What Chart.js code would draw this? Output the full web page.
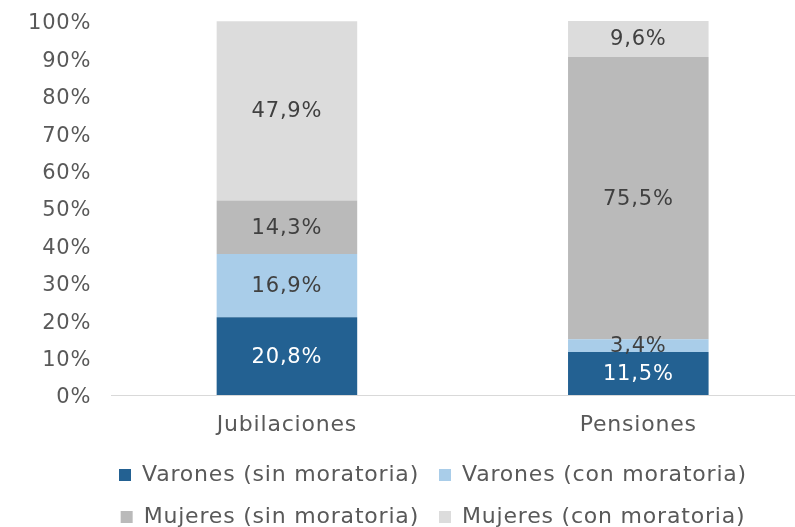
<!DOCTYPE html>
<html>
<head>
<meta charset="utf-8">
<script src="https://cdn.jsdelivr.net/npm/chart.js@4.4.1/dist/chart.umd.min.js"></script>
<style>
  html, body { margin: 0; padding: 0; background: #fff; overflow: hidden; }
  #wrap { width: 795px; height: 527px; overflow: hidden; }
</style>
</head>
<body>
<div id="wrap"><canvas id="myChart" width="814" height="527"></canvas></div>
<script>
// categories and series (percent)
let categories = ['Jubilaciones', 'Pensiones'];
let varonesSin = [20.8, 11.5];
let varonesCon = [16.9, 3.4];
let mujeresSin = [14.3, 75.5];
let mujeresCon = [47.9, 9.6];
let yTicks = [0, 10, 20, 30, 40, 50, 60, 70, 80, 90, 100];

const FONT = '"DejaVu Sans", sans-serif';
const TEXT = '#595959';
const SPACING = '0.8px';

// a little letter spacing so the text is as wide as in the original
const wideText = {
  id: 'wideText',
  beforeUpdate(chart) { chart.ctx.letterSpacing = SPACING; },
  beforeDraw(chart) { chart.ctx.letterSpacing = SPACING; },
  afterLayout(chart) {
    // legend sits a bit lower and right of centre in the original
    chart.legend.left += 22;
    chart.legend.right += 22;
    chart.legend.top += 11;
    chart.legend.bottom += 11;
    // x labels get clipped to the axis box, give them room
    chart.scales.x.bottom += 30;
  }
};

// draws the value inside each bar segment
const segmentLabels = {
  id: 'segmentLabels',
  afterDatasetsDraw(chart) {
    const ctx = chart.ctx;
    ctx.save();
    ctx.font = '21px ' + FONT;
    ctx.textAlign = 'center';
    ctx.textBaseline = 'middle';
    chart.data.datasets.forEach(function (ds, i) {
      let meta = chart.getDatasetMeta(i);
      meta.data.forEach(function (bar, j) {
        let y = (bar.y + bar.base) / 2;
        ctx.fillStyle = ds.labelColor;
        ctx.fillText(ds.data[j].toFixed(1).replace('.', ',') + '%', bar.x, y + 1);
      });
    });
    ctx.restore();
  }
};

let chart = document.getElementById('myChart');

const config = {
  type: 'bar',
  data: {
    labels: categories,
    datasets: [
      { label: 'Varones (sin moratoria)', data: varonesSin, backgroundColor: '#236192', labelColor: '#ffffff' },
      { label: 'Varones (con moratoria)', data: varonesCon, backgroundColor: '#a9cde9', labelColor: '#404040' },
      { label: 'Mujeres (sin moratoria)', data: mujeresSin, backgroundColor: '#bababa', labelColor: '#404040' },
      { label: 'Mujeres (con moratoria)', data: mujeresCon, backgroundColor: '#dcdcdc', labelColor: '#404040' }
    ]
  },
  options: {
    responsive: false,
    animation: false,
    layout: { padding: { top: 21, right: 0, left: 8, bottom: 0 } },
    datasets: {
      bar: { categoryPercentage: 1, barPercentage: 0.4 }
    },
    plugins: {
      tooltip: { enabled: false },
      legend: {
        position: 'bottom',
        labels: {
          color: TEXT,
          font: { family: FONT, size: 22 },
          boxWidth: 12,
          boxHeight: 12,
          padding: 20
        }
      }
    },
    scales: {
      x: {
        stacked: true,
        grid: { display: false },
        border: { display: true, color: '#d9d9d9', width: 1 },
        ticks: { color: TEXT, font: { family: FONT, size: 22 }, padding: 9 },
        afterFit: function (axis) { axis.height = 38; }
      },
      y: {
        stacked: true,
        min: 0,
        max: 100,
        afterBuildTicks: function (axis) {
          axis.ticks = yTicks.map(function (v) { return { value: v }; });
        },
        afterFit: function (axis) {
          axis.paddingTop = 0;
          axis.paddingBottom = 0;
        },
        grid: { display: false, drawTicks: false },
        border: { display: false },
        ticks: {
          color: TEXT,
          font: { family: FONT, size: 21 },
          padding: 20,
          labelOffset: 3,
          callback: function (v) { return v + '%'; }
        }
      }
    }
  },
  plugins: [wideText, segmentLabels]
};

var myChart = new Chart(chart, config);
</script>
</body>
</html>
